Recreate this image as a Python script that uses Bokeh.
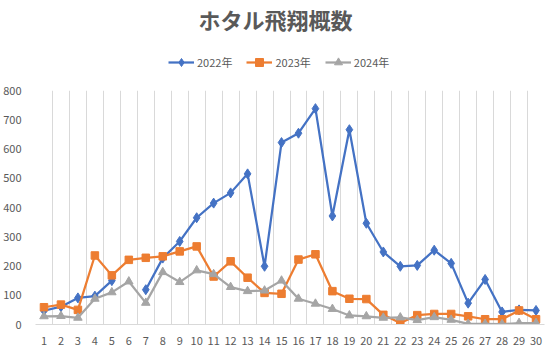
from bokeh.plotting import figure
from bokeh.models import Legend, LegendItem, FixedTicker
from bokeh.layouts import column
from bokeh.embed import file_html
from bokeh.resources import INLINE

days = list(range(1, 31))
nan = float("nan")
y2022 = [47, 61, 91, 97, 150, nan, 119, 227, 284, 365, 415, 450, 515, 199, 622,
         654, 738, 371, 666, 346, 248, 199, 202, 254, 209, 73, 154, 43, 50, 48]
y2023 = [59, 68, 50, 236, 168, 221, 228, 233, 250, 267, 164, 216, 160, 108, 105,
         222, 240, 114, 88, 87, 33, 5, 32, 36, 36, 28, 18, 18, 48, 18]
y2024 = [28, 29, 23, 88, 110, 147, 74, 179, 145, 185, 172, 128, 114, 116, 150,
         88, 71, 53, 31, 28, 23, 24, 15, 25, 16, 2, 2, 1, 5, 5]
series_names = ["2022年", "2023年", "2024年"]
colors = ["#4472C4", "#ED7D31", "#A5A5A5"]
title_text = "ホタル飛翔概数"
y_ticks = [0, 100, 200, 300, 400, 500, 600, 700, 800]

FONT = "Noto Sans CJK JP"
markers = ["diamond", "square", "triangle"]
sizes = [10, 7.5, 8.5]

# header with title and legend (its frame is aligned with the main plot frame)
h = figure(width=554, height=80, output_backend="svg", toolbar_location=None,
           x_range=(0, 1), y_range=(0, 1), min_border=0,
           x_axis_location=None, y_axis_location=None)
h.grid.visible = False
h.outline_line_color = None
h.title.text = title_text
h.title.align = "left"
h.title.text_font = FONT
h.title.text_font_size = "22px"
h.title.text_font_style = "bold"
h.title.text_color = "#595959"
h.title.offset = 163
h.title.standoff = 0

items = []
for n, c, m, s in zip(series_names, colors, markers, sizes):
    # legend-only proxies placed outside the visible header range
    l = h.line([-5, -4], [-5, -4], line_color=c, line_width=2.25)
    sc = h.scatter([-5], [-5], marker=m, size=s, fill_color=c, line_color=c)
    items.append(LegendItem(label=n, renderers=[l, sc]))
legend = Legend(items=items, orientation="horizontal", location=(133, 8),
                label_text_font=FONT, label_text_font_size="11px",
                label_text_color="#595959", border_line_color=None,
                background_fill_alpha=0,
                glyph_width=26, label_standoff=3, spacing=14,
                margin=0, padding=2)
h.add_layout(legend, "center")

p = figure(width=554, height=272, output_backend="svg", toolbar_location=None,
           x_range=(0.5, 30.5), y_range=(0, 800),
           min_border_left=33, min_border_right=10, min_border_top=10, min_border_bottom=28)
p.outline_line_color = None
p.background_fill_color = "white"

for ys, c, m, s in zip([y2022, y2023, y2024], colors, markers, sizes):
    p.line(days, ys, line_color=c, line_width=2.25)
    p.scatter(days, ys, marker=m, size=s, fill_color=c, line_color=c)

p.xaxis.ticker = FixedTicker(ticks=days)
p.xaxis.major_tick_line_color = None
p.xaxis.minor_tick_line_color = None
p.xaxis.axis_line_color = "#D9D9D9"
p.xaxis.major_label_text_font = FONT
p.xaxis.major_label_text_font_size = "11px"
p.xaxis.major_label_text_color = "#595959"
p.xaxis.major_label_standoff = 6

p.yaxis.ticker = FixedTicker(ticks=y_ticks)
p.yaxis.major_tick_line_color = None
p.yaxis.minor_tick_line_color = None
p.yaxis.axis_line_color = None
p.yaxis.major_label_text_font = FONT
p.yaxis.major_label_text_font_size = "11px"
p.yaxis.major_label_text_color = "#595959"
p.yaxis.major_label_standoff = 8

p.ygrid.grid_line_color = None
p.xgrid.ticker = FixedTicker(ticks=[d + 0.5 for d in [0] + days])
p.xgrid.grid_line_color = "#D9D9D9"
p.xgrid.grid_line_width = 1

layout = column(h, p, spacing=0)
open("out.html", "w").write(file_html(layout, INLINE))
